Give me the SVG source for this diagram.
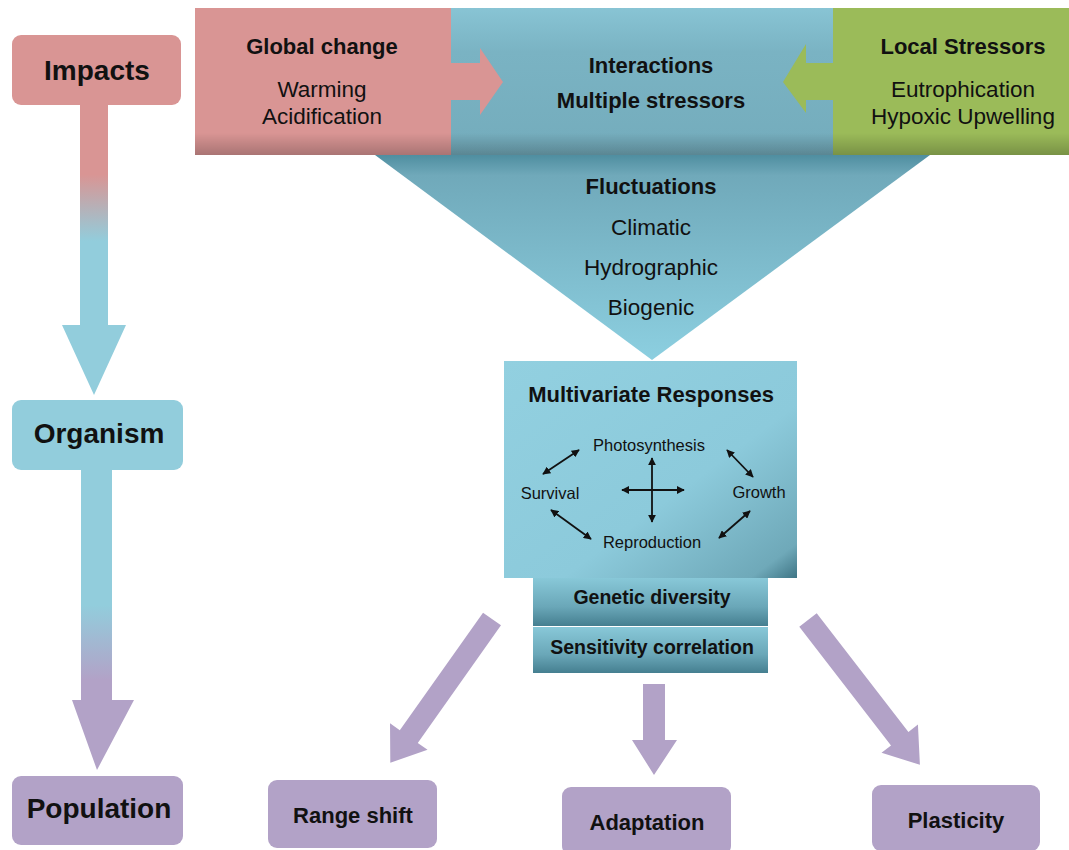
<svg xmlns="http://www.w3.org/2000/svg" width="1069" height="850" viewBox="0 0 1069 850">
<defs>
<linearGradient id="gArr1" x1="0" y1="105" x2="0" y2="395" gradientUnits="userSpaceOnUse">
<stop offset="0" stop-color="#d99594"/><stop offset="0.24" stop-color="#d99594"/><stop offset="0.47" stop-color="#92cddc"/><stop offset="1" stop-color="#92cddc"/>
</linearGradient>
<linearGradient id="gArr2" x1="0" y1="470" x2="0" y2="770" gradientUnits="userSpaceOnUse">
<stop offset="0" stop-color="#92cddc"/><stop offset="0.45" stop-color="#92cddc"/><stop offset="0.7" stop-color="#b2a2c7"/><stop offset="1" stop-color="#b2a2c7"/>
</linearGradient>
<linearGradient id="gShade" x1="0" y1="0" x2="0" y2="1">
<stop offset="0" stop-color="#000" stop-opacity="0"/><stop offset="0.85" stop-color="#000" stop-opacity="0"/><stop offset="1" stop-color="#000" stop-opacity="0.22"/>
</linearGradient>
<linearGradient id="gFunnel" x1="0" y1="155" x2="0" y2="360" gradientUnits="userSpaceOnUse">
<stop offset="0" stop-color="#4f8ea0"/><stop offset="0.1" stop-color="#70a9ba"/><stop offset="1" stop-color="#8ccfe0"/>
</linearGradient>
<linearGradient id="gMid" x1="0" y1="0" x2="0" y2="1">
<stop offset="0" stop-color="#88c4d4"/><stop offset="0.3" stop-color="#7ab3c3"/><stop offset="1" stop-color="#74acbc"/>
</linearGradient>
<linearGradient id="gMV" x1="0" y1="0" x2="1" y2="1">
<stop offset="0" stop-color="#92d0e0"/><stop offset="0.6" stop-color="#8ccadb"/><stop offset="0.92" stop-color="#6fa9b9"/><stop offset="1" stop-color="#3f7585"/>
</linearGradient>
<linearGradient id="gBar" x1="0" y1="0" x2="0" y2="1">
<stop offset="0" stop-color="#88c8d8"/><stop offset="0.6" stop-color="#6aa7b8"/><stop offset="1" stop-color="#457f90"/>
</linearGradient>
<marker id="ah" viewBox="0 0 10 10" refX="9" refY="5" markerWidth="8" markerHeight="8" orient="auto-start-reverse" markerUnits="userSpaceOnUse">
<path d="M0,0 L10,5 L0,10 z" fill="#111"/>
</marker>
<style>
text{font-family:"Liberation Sans",Arial,sans-serif;fill:#111;text-anchor:middle}
.big{font-size:28px;font-weight:bold}
.hb{font-size:22px;font-weight:bold}
.hr{font-size:22.5px}
.sm{font-size:16.5px}
.bar{font-size:19.5px;font-weight:bold}
.dbl{stroke:#111;stroke-width:1.8;fill:none;marker-start:url(#ah);marker-end:url(#ah)}
.purple{fill:#b2a2c7}
</style>
</defs>

<g id="connectors">
<path d="M80,105 H108 V325 H126 L94,395 L62,325 H80 Z" fill="url(#gArr1)"/>
<path d="M81,470 H112 V700 H134 L97,770 L72,700 H81 Z" fill="url(#gArr2)"/>
<g class="purple">
<path d="M0,-11 H144 V-23 L176,0 L144,23 V11 H0 Z" transform="translate(492,619) rotate(125.3)"/>
<path d="M643,684 H665 V740 H677 L654,775 L632,740 H643 Z"/>
<path d="M0,-11 H150 V-23 L183,0 L150,23 V11 H0 Z" transform="translate(808,620) rotate(52.3)"/>
</g>
</g>

<g id="funnel">
<path d="M375,155 H930 L652,360 Z" fill="url(#gFunnel)"/>
<text class="hb" x="651" y="194">Fluctuations</text>
<text class="hr" x="651" y="235">Climatic</text>
<text class="hr" x="651" y="275">Hydrographic</text>
<text class="hr" x="651" y="315">Biogenic</text>
</g>

<g id="interactions">
<rect x="451" y="8" width="382" height="147" fill="url(#gMid)"/>
<rect x="451" y="8" width="382" height="147" fill="url(#gShade)"/>
<text class="hb" x="651" y="73">Interactions</text>
<text class="hb" x="651" y="108">Multiple stressors</text>
</g>

<g id="global-change">
<rect x="195" y="8" width="256" height="147" fill="#d99594"/>
<rect x="195" y="8" width="256" height="147" fill="url(#gShade)"/>
<path d="M450,63 H480 V48 L503,82 L480,115 V100 H450 Z" fill="#d99594"/>
<text class="hb" x="322" y="54">Global change</text>
<text class="hr" x="322" y="97">Warming</text>
<text class="hr" x="322" y="124">Acidification</text>
</g>

<g id="local-stressors">
<rect x="833" y="8" width="236" height="147" fill="#9bbb59"/>
<rect x="833" y="8" width="236" height="147" fill="url(#gShade)"/>
<path d="M834,63 H806 V44 L783,82 L806,113 V100 H834 Z" fill="#9bbb59"/>
<text class="hb" x="963" y="54">Local Stressors</text>
<text class="hr" x="963" y="97">Eutrophication</text>
<text class="hr" x="963" y="124">Hypoxic Upwelling</text>
</g>

<g id="impacts">
<rect x="12" y="35" width="169" height="70" rx="9" fill="#d99594"/>
<text class="big" x="97" y="80">Impacts</text>
</g>
<g id="organism">
<rect x="12" y="400" width="171" height="70" rx="9" fill="#92cddc"/>
<text class="big" x="99" y="443">Organism</text>
</g>
<g id="population">
<rect x="12" y="776" width="171" height="69" rx="9" fill="#b2a2c7"/>
<text class="big" x="99" y="818">Population</text>
</g>

<g id="multivariate">
<rect x="504" y="361" width="293" height="217" fill="url(#gMV)"/>
<text class="hb" x="651" y="402">Multivariate Responses</text>
<text class="sm" x="649" y="451">Photosynthesis</text>
<text class="sm" x="550" y="499">Survival</text>
<text class="sm" x="759" y="498">Growth</text>
<text class="sm" x="652" y="548">Reproduction</text>
<path class="dbl" d="M543,474 L579,450"/>
<path class="dbl" d="M727,450 L753,477"/>
<path class="dbl" d="M551,510 L591,539"/>
<path class="dbl" d="M719,538 L750,511"/>
<path class="dbl" d="M652,458 L652,522"/>
<path class="dbl" d="M622,490 L684,490"/>
</g>

<g id="genetic-diversity">
<rect x="533" y="578" width="235" height="48" fill="url(#gBar)"/>
<text class="bar" x="652" y="604">Genetic diversity</text>
</g>
<g id="sensitivity-correlation">
<rect x="533" y="627" width="235" height="46" fill="url(#gBar)"/>
<text class="bar" x="652" y="654">Sensitivity correlation</text>
</g>

<g id="range-shift">
<rect x="268" y="780" width="169" height="68" rx="9" fill="#b2a2c7"/>
<text class="hb" x="353" y="823">Range shift</text>
</g>
<g id="adaptation">
<rect x="562" y="787" width="169" height="68" rx="9" fill="#b2a2c7"/>
<text class="hb" x="647" y="830">Adaptation</text>
</g>
<g id="plasticity">
<rect x="872" y="785" width="168" height="66" rx="9" fill="#b2a2c7"/>
<text class="hb" x="956" y="828">Plasticity</text>
</g>
</svg>
